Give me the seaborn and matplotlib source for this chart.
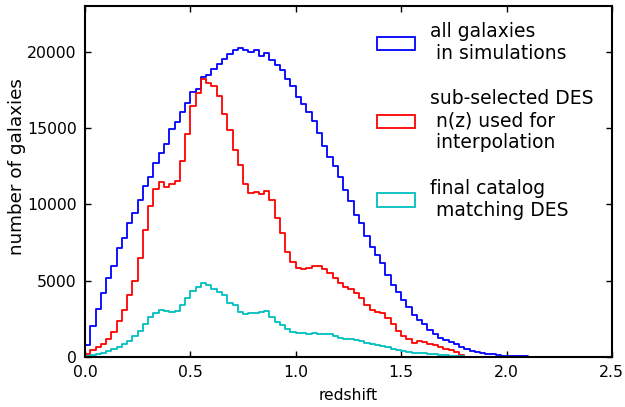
import numpy as np
import pandas as pd
import seaborn as sns
import matplotlib.pyplot as plt
from matplotlib.patches import Patch

# redshift bins: 0 -> 2.5 in steps of 0.025
BIN_WIDTH = 0.025
edges = np.arange(0, 2.5 + BIN_WIDTH / 2, BIN_WIDTH)

# counts per bin
all_sim = [
    790, 2060, 3150, 4160, 5160, 5930, 7110, 7830, 8750, 9430,
    10260, 11230, 11820, 12690, 13370, 13980, 14920, 15380, 16060, 16630,
    17350, 17590, 18360, 18490, 18880, 19230, 19560, 19890, 20090, 20240,
    20090, 20000, 20110, 19720, 19930, 19470, 19120, 18840, 18250, 17750,
    17070, 16610, 16040, 15450, 14700, 13840, 13130, 12520, 11810, 10930,
    10250, 9320, 8770, 7960, 7240, 6700, 6150, 5340, 4730, 4290,
    3750, 3250, 2780, 2450, 2150, 1760, 1500, 1250, 1100, 950,
    820, 650, 520, 420, 340, 270, 220, 170, 130, 90,
    65, 50, 40, 32, 26, 20, 16, 12, 10, 8,
    6, 5, 4, 3, 3, 2, 2, 1, 1, 1,
]
des_sub = [
    200, 440, 620, 880, 1200, 1660, 2360, 3110, 4070, 5010,
    6480, 8290, 9870, 11010, 11440, 11140, 11330, 11550, 12870, 14620,
    16430, 17310, 18250, 17960, 17790, 17090, 15950, 14860, 13540, 12600,
    11360, 10740, 10790, 10680, 10900, 10310, 9100, 8100, 6880, 6230,
    5850, 5780, 5840, 5950, 5950, 5750, 5490, 5160, 4880, 4570,
    4440, 4220, 3880, 3420, 3050, 2930, 2900, 2570, 2150, 1700,
    1350, 1150, 940, 1020, 950, 870, 790, 670, 550, 430,
    320, 140, 0, 0, 0, 0, 0, 0, 0, 0,
    0, 0, 0, 0, 0, 0, 0, 0, 0, 0,
    0, 0, 0, 0, 0, 0, 0, 0, 0, 0,
]
final_cat = [
    50, 100, 160, 250, 380, 490, 650, 820, 1070, 1350,
    1730, 2150, 2600, 2870, 3090, 3020, 2930, 3040, 3380, 3850,
    4330, 4570, 4840, 4730, 4460, 4270, 4030, 3520, 3410, 2930,
    2820, 2870, 2910, 2930, 2980, 2650, 2320, 2100, 1850, 1660,
    1550, 1550, 1500, 1560, 1530, 1500, 1480, 1370, 1270, 1180,
    1150, 1090, 1040, 940, 850, 780, 720, 640, 540, 450,
    360, 300, 260, 280, 260, 220, 180, 135, 100, 65,
    50, 35, 0, 0, 0, 0, 0, 0, 0, 0,
    0, 0, 0, 0, 0, 0, 0, 0, 0, 0,
    0, 0, 0, 0, 0, 0, 0, 0, 0, 0,
]

labels = [
    "all galaxies\n in simulations",
    "sub-selected DES\n n(z) used for\n interpolation",
    "final catalog\n matching DES",
]
colors = ["b", "r", "c"]

centers = edges[:-1] + BIN_WIDTH / 2
bin_list = [float(e) for e in edges]

sns.set_style("ticks")
plt.rcParams["font.family"] = ["DejaVu Sans"]
plt.rcParams["text.color"] = "black"
plt.rcParams["axes.labelcolor"] = "black"

fig = plt.figure(figsize=(6.25, 4.07), dpi=100)
ax = fig.add_axes([0.136, 0.123, 0.843, 0.862])

for counts, col in zip([all_sim, des_sub, final_cat], colors):
    df = pd.DataFrame({"z": centers, "n": np.array(counts, dtype=float)})
    sns.histplot(data=df, x="z", weights="n", bins=bin_list, element="step",
                 fill=False, color=col, linewidth=1.3, ax=ax)

ax.set_xlim(0, 2.5)
ax.set_ylim(0, 23000)
ax.set_xticks([0.0, 0.5, 1.0, 1.5, 2.0, 2.5])
ax.set_yticks([0, 5000, 10000, 15000, 20000])
ax.set_xlabel("redshift", fontsize=11.2, labelpad=5.5)
ax.set_ylabel("number of galaxies", fontsize=13.2)
ax.yaxis.set_label_coords(-0.112, 0.544)
ax.tick_params(direction="in", top=True, right=True, length=4, width=1,
               labelsize=11.3, pad=6, color="black", labelcolor="black")
for sp in ax.spines.values():
    sp.set_visible(True)
    sp.set_linewidth(1.5)
    sp.set_color("black")

handles = [Patch(facecolor="none", edgecolor=c, linewidth=1.3) for c in colors]
ax.legend(handles, labels, loc="upper left", frameon=False, fontsize=13.5,
          handlelength=2.0, handleheight=0.7, handletextpad=0.8,
          labelspacing=1.4, borderpad=0, borderaxespad=0,
          bbox_to_anchor=(377 / 625, 1 - 22 / 407), bbox_transform=fig.transFigure)

fig.savefig("out.png", dpi=100)
